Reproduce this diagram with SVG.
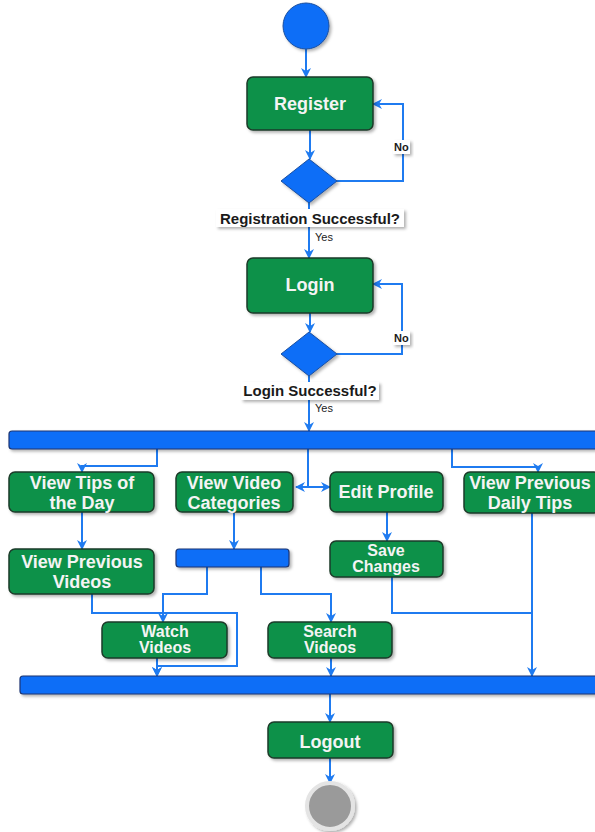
<svg xmlns="http://www.w3.org/2000/svg" width="595" height="832" viewBox="0 0 595 832">
  <defs>
    <filter id="sh" x="-10%" y="-10%" width="130%" height="140%">
      <feDropShadow dx="2" dy="2" stdDeviation="1.5" flood-color="#000" flood-opacity="0.3"/>
    </filter>
    <marker id="arrow" viewBox="0 0 10 10" refX="9" refY="5" markerWidth="10" markerHeight="10" orient="auto" markerUnits="userSpaceOnUse">
      <path d="M0,0 L10,5 L0,10 L3,5 z" fill="#1f7bf0"/>
    </marker>
  </defs>
  <style>
    .act { fill: #0f914a; stroke: #1d3b29; stroke-width: 1.5; filter: url(#sh); }
    .bar { fill: #0a6ef7; stroke: #1b3573; stroke-width: 1.2; filter: url(#sh); }
    .dec { fill: #0a6ef7; stroke: #1b4fa0; stroke-width: 1; filter: url(#sh); }
    .t { font-family: "Liberation Sans", Arial, sans-serif; font-weight: bold; fill: #f4f4f4; text-anchor: middle; font-size: 18px; }
    .tt { font-family: "Liberation Sans", Arial, sans-serif; font-weight: bold; fill: #f4f4f4; text-anchor: middle; font-size: 16px; }
    .q { font-family: "Liberation Sans", Arial, sans-serif; font-weight: bold; fill: #1a1a1a; text-anchor: middle; font-size: 15px; }
    .s { font-family: "Liberation Sans", Arial, sans-serif; fill: #1a1a1a; font-size: 11px; }
    .lb { fill: #ffffff; filter: url(#sh); }
    .e { fill: none; stroke: #1f7bf0; stroke-width: 2; marker-end: url(#arrow); }
    .n { fill: none; stroke: #1f7bf0; stroke-width: 2; }
  </style>

  <g id="connectors">
    <path class="e" d="M306,49 V77"/>
    <path class="e" d="M310,130 V159"/>
    <path class="e" d="M337,181 H403 V104 H373"/>
    <path class="e" d="M309,203 V258"/>
    <path class="e" d="M310,313 V332"/>
    <path class="e" d="M337,354 H402 V284 H373"/>
    <path class="e" d="M309,376 V431"/>
    <path class="e" d="M157,449 V466 H82 V472"/>
    <path class="n" d="M308,449 V487"/>
    <path class="e" d="M308,487 H296"/>
    <path class="e" d="M308,487 H330"/>
    <path class="e" d="M452,449 V467 H538 V472"/>
    <path class="e" d="M82,512 V549"/>
    <path class="e" d="M234,512 V549"/>
    <path class="e" d="M387,512 V541"/>
    <path class="e" d="M207,567 V594 H163 V622"/>
    <path class="e" d="M261,567 V594 H331 V622"/>
    <path class="e" d="M92,594 V613 H237 V666 H157 V676"/>
    <path class="e" d="M157,658 V676"/>
    <path class="e" d="M331,658 V676"/>
    <path class="n" d="M392,577 V613 H532"/>
    <path class="e" d="M532,513 V676"/>
    <path class="e" d="M330,694 V722"/>
    <path class="e" d="M330,758 V783"/>
  </g>

  <g id="start">
    <circle cx="306" cy="26" r="23" class="dec"/>
  </g>

  <g id="register">
    <rect x="247" y="77" width="126" height="53" rx="6" class="act"/>
    <text x="310" y="110" class="t">Register</text>
  </g>

  <g id="decision-register">
    <polygon points="309,159 337,181 309,203 281,181" class="dec"/>
    <rect x="216" y="209" width="188" height="18" class="lb"/>
    <text x="310" y="224" class="q">Registration Successful?</text>
    <rect x="393" y="140" width="17" height="14" class="lb"/>
    <text x="394" y="151" class="s" font-weight="bold">No</text>
    <text x="315" y="241" class="s">Yes</text>
  </g>

  <g id="login">
    <rect x="247" y="258" width="126" height="55" rx="6" class="act"/>
    <text x="310" y="291" class="t">Login</text>
  </g>

  <g id="decision-login">
    <polygon points="309,332 337,354 309,376 281,354" class="dec"/>
    <rect x="241" y="382" width="138" height="18" class="lb"/>
    <text x="310" y="396" class="q">Login Successful?</text>
    <rect x="393" y="331" width="17" height="14" class="lb"/>
    <text x="394" y="342" class="s" font-weight="bold">No</text>
    <text x="315" y="412" class="s">Yes</text>
  </g>

  <g id="fork">
    <rect x="9" y="431" width="592" height="18" rx="3" class="bar"/>
  </g>

  <g id="view-tips">
    <rect x="9" y="472" width="145" height="40" rx="6" class="act"/>
    <text x="82" y="489" class="t">View Tips of</text>
    <text x="82" y="509" class="t">the Day</text>
  </g>

  <g id="view-categories">
    <rect x="176" y="472" width="117" height="40" rx="6" class="act"/>
    <text x="234" y="489" class="t">View Video</text>
    <text x="234" y="509" class="t">Categories</text>
  </g>

  <g id="edit-profile">
    <rect x="330" y="472" width="113" height="40" rx="6" class="act"/>
    <text x="386" y="498" class="t">Edit Profile</text>
  </g>

  <g id="view-previous-tips">
    <rect x="464" y="472" width="136" height="41" rx="6" class="act"/>
    <text x="530" y="489" class="t">View Previous</text>
    <text x="530" y="509" class="t">Daily Tips</text>
  </g>

  <g id="view-previous-videos">
    <rect x="9" y="549" width="145" height="45" rx="6" class="act"/>
    <text x="82" y="568" class="t">View Previous</text>
    <text x="82" y="588" class="t">Videos</text>
  </g>

  <g id="category-fork">
    <rect x="176" y="549" width="113" height="18" rx="3" class="bar"/>
  </g>

  <g id="save-changes">
    <rect x="330" y="541" width="113" height="36" rx="6" class="act"/>
    <text x="386" y="556" class="tt">Save</text>
    <text x="386" y="572" class="tt">Changes</text>
  </g>

  <g id="watch-videos">
    <rect x="102" y="622" width="125" height="36" rx="6" class="act"/>
    <text x="165" y="637" class="tt">Watch</text>
    <text x="165" y="653" class="tt">Videos</text>
  </g>

  <g id="search-videos">
    <rect x="268" y="622" width="124" height="36" rx="6" class="act"/>
    <text x="330" y="637" class="tt">Search</text>
    <text x="330" y="653" class="tt">Videos</text>
  </g>

  <g id="join">
    <rect x="20" y="676" width="582" height="18" rx="3" class="bar"/>
  </g>

  <g id="logout">
    <rect x="268" y="722" width="125" height="36" rx="6" class="act"/>
    <text x="330" y="748" class="t" font-size="20">Logout</text>
  </g>

  <g id="end">
    <circle cx="330" cy="806" r="23" fill="#9a9a9a" stroke="#e4e4e4" stroke-width="4" filter="url(#sh)"/>
  </g>
</svg>
